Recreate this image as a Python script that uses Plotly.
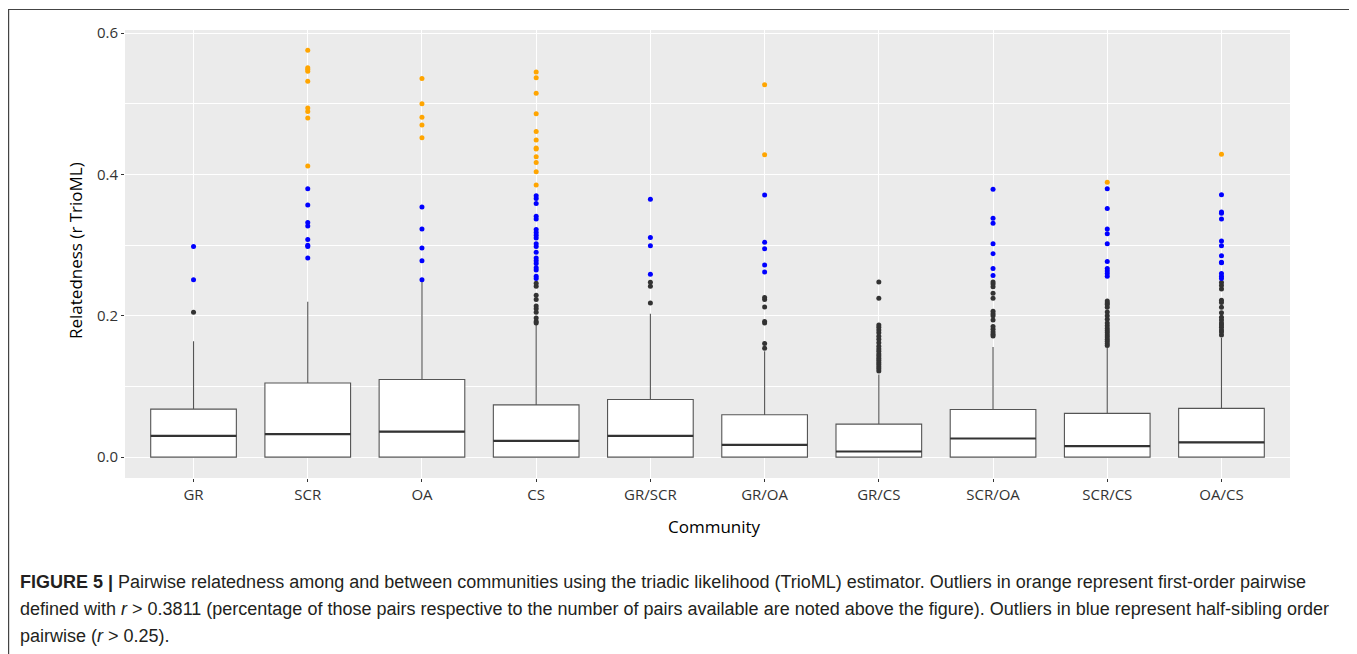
import plotly.graph_objects as go

categories = ["GR", "SCR", "OA", "CS", "GR/SCR", "GR/OA", "GR/CS", "SCR/OA", "SCR/CS", "OA/CS"]
q1 = [0, 0, 0, 0, 0, 0, 0, 0, 0, 0]
medians = [0.030, 0.0325, 0.036, 0.023, 0.030, 0.0175, 0.008, 0.0264, 0.0156, 0.021]
q3 = [0.068, 0.105, 0.110, 0.074, 0.0816, 0.060, 0.0467, 0.0675, 0.062, 0.069]
lower_whisker = [0, 0, 0, 0, 0, 0, 0, 0, 0, 0]
upper_whisker = [0.164, 0.220, 0.249, 0.187, 0.203, 0.150, 0.117, 0.156, 0.1546, 0.169]

outliers_black = [
    [0.205],
    [],
    [],
    [0.190, 0.192, 0.197, 0.205, 0.210, 0.214, 0.223, 0.229, 0.242, 0.246],
    [0.218, 0.242, 0.2475],
    [0.154, 0.161, 0.190, 0.192, 0.2125, 0.223, 0.226],
    [0.122, 0.125, 0.128, 0.131, 0.134, 0.137, 0.140, 0.143, 0.146, 0.150, 0.153,
     0.157, 0.162, 0.167, 0.171, 0.176, 0.180, 0.184, 0.187, 0.225, 0.248],
    [0.1715, 0.174, 0.177, 0.181, 0.185, 0.194, 0.200, 0.203, 0.2065, 0.225, 0.232,
     0.241, 0.245, 0.248],
    [0.158, 0.161, 0.164, 0.167, 0.170, 0.173, 0.176, 0.179, 0.182, 0.186, 0.190,
     0.195, 0.200, 0.2055, 0.212, 0.216, 0.218, 0.221],
    [0.173, 0.177, 0.180, 0.184, 0.187, 0.190, 0.194, 0.198, 0.2045, 0.212, 0.219,
     0.222, 0.238, 0.243, 0.247],
]
outliers_blue = [
    [0.251, 0.298],
    [0.282, 0.298, 0.300, 0.308, 0.327, 0.332, 0.357, 0.380],
    [0.251, 0.278, 0.296, 0.323, 0.354],
    [0.253, 0.256, 0.265, 0.268, 0.274, 0.278, 0.282, 0.290, 0.298, 0.302, 0.310,
     0.314, 0.318, 0.322, 0.337, 0.341, 0.359, 0.366, 0.370],
    [0.259, 0.299, 0.311, 0.365],
    [0.262, 0.272, 0.295, 0.304, 0.371],
    [],
    [0.257, 0.267, 0.288, 0.302, 0.331, 0.338, 0.379],
    [0.256, 0.260, 0.2635, 0.267, 0.277, 0.302, 0.316, 0.323, 0.352, 0.380],
    [0.253, 0.256, 0.260, 0.275, 0.276, 0.285, 0.299, 0.306, 0.337, 0.345, 0.347, 0.3715],
]
outliers_orange = [
    [],
    [0.412, 0.480, 0.489, 0.494, 0.532, 0.546, 0.549, 0.551, 0.576],
    [0.452, 0.470, 0.481, 0.500, 0.536],
    [0.385, 0.404, 0.417, 0.425, 0.436, 0.4375, 0.449, 0.461, 0.486, 0.515, 0.537, 0.545],
    [],
    [0.428, 0.527],
    [],
    [],
    [0.389],
    [0.4285],
]

y_ticks = [0.0, 0.2, 0.4, 0.6]
y_ticklabels = ["0.0", "0.2", "0.4", "0.6"]

caption_lines = [
    "<b>FIGURE 5 |</b> Pairwise relatedness among and between communities using the triadic likelihood (TrioML) estimator. Outliers in orange represent first-order pairwise",
    "defined with <i>r</i> &gt; 0.3811 (percentage of those pairs respective to the number of pairs available are noted above the figure). Outliers in blue represent half-sibling order",
    "pairwise (<i>r</i> &gt; 0.25).",
]

# page body has an 8px margin: the figure starts at screen (8, 8)
OFF = 8
SCREEN_W, SCREEN_H = 1357, 654
W, H = SCREEN_W - OFF, SCREEN_H - OFF
# plot panel in screen coordinates
SL, SR, ST, SB = 125, 1290, 30, 478
BOX_W = 0.75
TXT = "#333333"
TICKFONT = "Open Sans"

fig = go.Figure()

idx = list(range(len(categories)))
for i in idx:
    fig.add_trace(go.Box(
        x=[i], q1=[q1[i]], median=[medians[i]], q3=[q3[i]],
        lowerfence=[lower_whisker[i]], upperfence=[upper_whisker[i]],
        width=BOX_W, whiskerwidth=0, boxpoints=False,
        fillcolor="white", line=dict(color="#555555", width=1.1),
        showlegend=False, hoverinfo="skip",
    ))

# thicker medians, as in ggplot
mx, my = [], []
for i in idx:
    mx += [i - BOX_W / 2, i + BOX_W / 2, None]
    my += [medians[i], medians[i], None]
fig.add_trace(go.Scatter(x=mx, y=my, mode="lines", line=dict(color="#333333", width=2.2),
                         showlegend=False, hoverinfo="skip"))

def add_points(groups, color):
    xs, ys = [], []
    for i, vals in enumerate(groups):
        xs += [i] * len(vals)
        ys += vals
    fig.add_trace(go.Scatter(x=xs, y=ys, mode="markers",
                             marker=dict(color=color, size=5, line=dict(width=0)),
                             showlegend=False, hoverinfo="skip"))

add_points(outliers_black, "#333333")
add_points(outliers_blue, "#0000FF")
add_points(outliers_orange, "#FFA500")

fig.update_layout(
    width=W, height=H,
    margin=dict(l=SL - OFF, r=SCREEN_W - SR, t=ST - OFF, b=SCREEN_H - SB, autoexpand=False),
    paper_bgcolor="white", plot_bgcolor="#EBEBEB",
    showlegend=False,
    xaxis=dict(
        range=[-0.6, len(categories) - 0.4],
        tickmode="array", tickvals=idx, ticktext=categories,
        showgrid=True, gridcolor="white", gridwidth=1.2,
        zeroline=False, showline=False,
        ticks="outside", ticklen=3, tickcolor=TXT,
        tickfont=dict(family=TICKFONT, size=15, color=TXT),
    ),
    yaxis=dict(
        range=[-0.0295, 0.6045],
        tickmode="array", tickvals=y_ticks, ticktext=y_ticklabels,
        showgrid=True, gridcolor="white", gridwidth=1.2,
        minor=dict(tickmode="array", tickvals=[0.1, 0.3, 0.5], showgrid=True,
                   gridcolor="white", gridwidth=0.5, ticks=""),
        zeroline=False, showline=False,
        ticks="outside", ticklen=3, tickcolor=TXT,
        tickfont=dict(family=TICKFONT, size=15, color=TXT),
    ),
)

def px_x(p):
    return (p - SL) / (SR - SL)

def px_y(p):
    return (SB - p) / (SB - ST)

# axis titles
fig.add_annotation(text="Relatedness (r TrioML)", xref="paper", yref="paper",
                   x=px_x(75), y=px_y(251), textangle=-90, showarrow=False,
                   xanchor="center", yanchor="middle",
                   font=dict(family=TICKFONT, size=17, color="black"))
fig.add_annotation(text="Community", xref="paper", yref="paper",
                   x=px_x(714), y=px_y(526), showarrow=False,
                   xanchor="center", yanchor="middle",
                   font=dict(family=TICKFONT, size=17, color="black"))

# caption
for line, yc in zip(caption_lines, [582, 609, 636]):
    fig.add_annotation(text=line, xref="paper", yref="paper",
                       x=px_x(18), y=px_y(yc), showarrow=False,
                       xanchor="left", yanchor="middle", align="left",
                       font=dict(family="Liberation Sans, Arial", size=18, color="#231F20"))

# outer frame
fig.add_shape(type="rect", xref="paper", yref="paper",
              x0=px_x(8.6), x1=px_x(1351), y0=px_y(700), y1=px_y(9.5),
              line=dict(color="#444444", width=1.2), fillcolor="rgba(0,0,0,0)", layer="above")

fig.write_html("out.html")
